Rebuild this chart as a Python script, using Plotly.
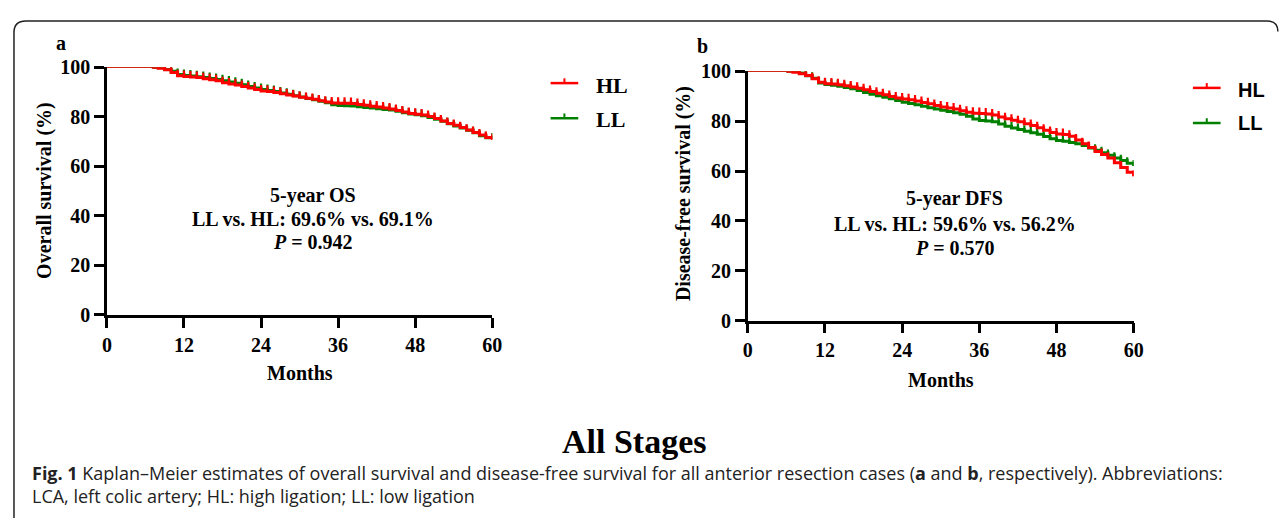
import plotly.graph_objects as go

# page = figure + 8px default body margin on each side -> 1288 x 526
PAGE_W, PAGE_H = 1288, 526
OFF = 8
W, H = PAGE_W - 2 * OFF, PAGE_H - 2 * OFF

# ---------------- data ----------------
months_a = list(range(7, 61))
os_hl = [100, 99.5, 98.9, 97.8, 96.5, 96.2, 96.0, 95.8, 95.3, 94.9, 94.5, 93.7, 93.2, 92.8,
         92.2, 91.6, 91.0, 90.4, 90.2, 89.8, 89.3, 88.8, 88.4, 87.8, 87.4, 87.0, 86.4, 85.9,
         85.5, 85.4, 85.4, 85.3, 84.9, 84.6, 84.2, 83.9, 83.5, 83.1, 82.5, 81.9, 81.3, 81.0,
         80.7, 80.1, 79.3, 78.3, 77.3, 76.5, 75.6, 74.6, 73.6, 72.6, 71.6, 70.7]
os_ll = [100, 99.7, 99.0, 98.3, 97.0, 96.6, 96.4, 96.1, 95.8, 95.4, 95.0, 94.5, 94.0, 93.5,
         92.9, 92.2, 91.6, 91.0, 90.6, 90.2, 89.6, 89.1, 88.5, 87.9, 87.3, 86.8, 86.2, 85.6,
         84.8, 84.5, 84.4, 84.3, 84.0, 83.7, 83.5, 83.2, 82.9, 82.7, 82.2, 81.6, 81.1, 80.8,
         80.4, 79.7, 79.0, 78.2, 77.2, 76.2, 75.4, 74.5, 73.5, 72.3, 71.5, 71.0]

months_b = list(range(6, 61))
dfs_hl = [100, 99.6, 99.0, 98.3, 97.0, 95.6, 95.0, 94.9, 94.6, 94.2, 93.7, 93.2, 92.6, 91.9,
          91.2, 90.6, 89.9, 89.3, 88.9, 88.6, 88.1, 87.5, 87.0, 86.3, 85.7, 85.3, 84.9, 84.2,
          83.6, 83.2, 83.1, 82.9, 82.5, 81.7, 81.0, 80.4, 79.8, 79.0, 78.3, 77.4, 76.4, 75.5,
          74.9, 74.7, 74.0, 72.5, 71.0, 69.5, 67.9, 66.7, 65.2, 63.3, 61.4, 59.5, 57.9]
dfs_ll = [100, 100, 99.3, 98.2, 97.2, 95.3, 94.7, 94.4, 94.0, 93.5, 93.0, 92.3, 91.5, 90.8,
          90.2, 89.6, 89.0, 88.3, 87.6, 87.1, 86.6, 86.0, 85.4, 84.9, 84.4, 83.9, 83.4, 82.8,
          82.0, 80.9, 80.3, 80.1, 79.8, 78.9, 78.0, 77.3, 76.7, 76.0, 75.4, 74.8, 73.9, 73.0,
          72.3, 72.0, 71.5, 71.0, 70.3, 69.3, 68.4, 67.4, 66.3, 65.2, 64.2, 63.1, 62.0]

x_ticks = [0, 12, 24, 36, 48, 60]
y_ticks = [0, 20, 40, 60, 80, 100]

RED = "#FF0000"
GREEN = "#008000"
SERIF = "Liberation Serif"


def px(x):
    return (x - OFF) / W


def py(y):
    return 1 - (y - OFF) / H


fig = go.Figure()


def km(months, vals, color, xa, ya):
    # thin initial flat segment
    fig.add_trace(go.Scatter(x=[0, months[0]], y=[100, vals[0]], mode="lines",
                             line=dict(color=color, width=1.5), xaxis=xa, yaxis=ya,
                             cliponaxis=False, showlegend=False, hoverinfo="skip"))
    # step curve with upward censor ticks
    fig.add_trace(go.Scatter(x=months, y=vals, mode="lines", line_shape="hv",
                             line=dict(color=color, width=3), xaxis=xa, yaxis=ya,
                             cliponaxis=False, showlegend=False,
                             error_y=dict(type="constant", symmetric=False, value=2.4,
                                          valueminus=0, color=color, thickness=2.2, width=0)))


km(months_a, os_ll, GREEN, "x", "y")
km(months_a, os_hl, RED, "x", "y")
km(months_b, dfs_ll, GREEN, "x2", "y2")
km(months_b, dfs_hl, RED, "x2", "y2")

axis_common = dict(showline=True, linewidth=2.5, linecolor="black", ticks="outside",
                   ticklen=10, tickwidth=2.5, tickcolor="black", showgrid=False,
                   zeroline=False, tickfont=dict(family=SERIF, size=20, color="black",
                                                 weight="bold"), fixedrange=True)

fig.update_layout(
    width=W, height=H, autosize=False,
    margin=dict(l=0, r=0, t=0, b=0),
    paper_bgcolor="white", plot_bgcolor="white",
    showlegend=False,
    xaxis=dict(domain=[px(103), px(493)], range=[0, 60], tickvals=x_ticks, anchor="y",
               **axis_common),
    yaxis=dict(domain=[py(317.3), py(58.3)], range=[0, 100], tickvals=y_ticks, anchor="x",
               **axis_common),
    xaxis2=dict(domain=[px(751.6), px(1142)], range=[0, 60], tickvals=x_ticks, anchor="y2",
                **axis_common),
    yaxis2=dict(domain=[py(323.3), py(62.7)], range=[0, 100], tickvals=y_ticks, anchor="x2",
                **axis_common),
)

ann = []


def text(x, y, s, size=20, family=SERIF, weight="bold", xanchor="center", angle=0,
         color="black"):
    ann.append(dict(x=px(x), y=py(y), xref="paper", yref="paper", text=s, showarrow=False,
                    xanchor=xanchor, yanchor="middle", textangle=angle,
                    font=dict(family=family, size=size, color=color, weight=weight)))


# panel labels
text(57, 33, "a")
text(706, 36, "b")
# axis titles
text(40, 187, "Overall survival (%)", angle=-90)
text(686, 191, "Disease-free survival (%)", angle=-90)
text(298, 378, "Months")
text(947, 385, "Months")
# in-plot stats
text(312, 192, "5-year OS")
text(312, 217, "LL vs. HL: 69.6% vs. 69.1%")
text(312, 241, "<i>P</i> = 0.942")
text(961, 196, "5-year DFS")
text(961, 222, "LL vs. HL: 59.6% vs. 56.2%")
text(961, 247, "<i>P</i> = 0.570")
# legends
text(596, 77, "HL", size=22, xanchor="left")
text(596, 113, "LL", size=22, xanchor="left")
text(1246, 82, "HL", size=20, family="Liberation Sans", xanchor="left")
text(1246, 117, "LL", size=20, family="Liberation Sans", xanchor="left")
# title
text(637, 450, "All Stages", size=34)
# caption (two lines in one block)
ann.append(dict(x=px(25), y=py(495), xref="paper", yref="paper", showarrow=False,
                xanchor="left", yanchor="middle", align="left",
                text="<b>Fig. 1</b> Kaplan–Meier estimates of overall survival and disease-free "
                     "survival for all anterior resection cases (<b>a</b> and <b>b</b>, "
                     "respectively). Abbreviations:<br>"
                     "LCA, left colic artery; HL: high ligation; LL: low ligation",
                font=dict(family="Open Sans", size=18, color="#222222")))

fig.update_layout(annotations=ann)

shapes = []
# legend symbols
for (x0, x1, y, c) in [(552, 580, 75, RED), (552, 580, 111.7, GREEN),
                       (1202, 1230, 80, RED), (1202, 1230, 116.7, GREEN)]:
    shapes.append(dict(type="line", xref="paper", yref="paper", x0=px(x0), x1=px(x1),
                       y0=py(y), y1=py(y), line=dict(color=c, width=2.5)))
    xm = (x0 + x1) / 2
    shapes.append(dict(type="line", xref="paper", yref="paper", x0=px(xm), x1=px(xm),
                       y0=py(y), y1=py(y - 5), line=dict(color=c, width=2)))

# frame with rounded corners (right part runs past the figure edge)
path = (f"M {px(9)},{py(530)} L {px(9)},{py(22)} Q {px(9)},{py(10)} {px(21)},{py(10)} "
        f"L {px(1277)},{py(10)} Q {px(1288)},{py(10)} {px(1288)},{py(21)}")
shapes.append(dict(type="path", xref="paper", yref="paper", path=path,
                   line=dict(color="#222222", width=1.5)))
fig.update_layout(shapes=shapes)

fig.write_html("out.html", config={"displayModeBar": False})
